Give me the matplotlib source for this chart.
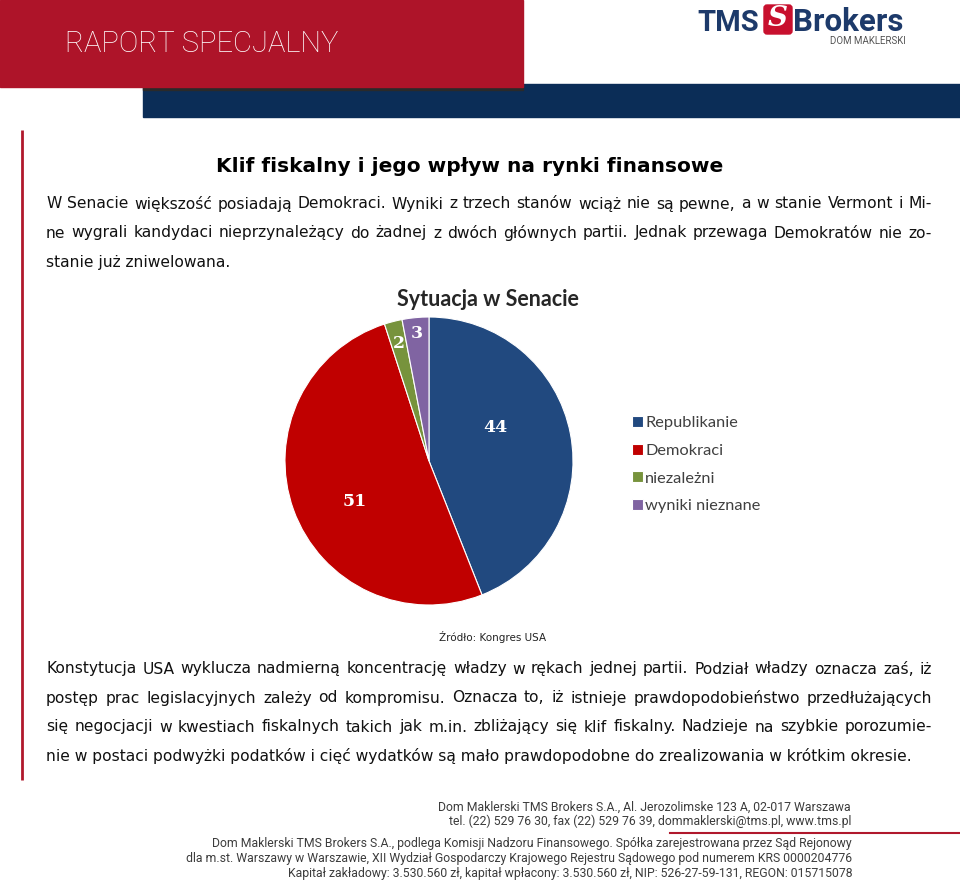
import matplotlib
matplotlib.use('Agg')
import matplotlib.pyplot as plt
from matplotlib.patches import Rectangle, FancyBboxPatch
import numpy as np

# chart data
parties = ['Republikanie', 'Demokraci', 'niezależni', 'wyniki nieznane']
seats = [44, 51, 2, 3]
colors = ['#21497f', '#c00000', '#77933c', '#8064a2']
# label placement inside the wedges (fraction of radius, angle shift in degrees)
label_r = [0.52, 0.59, 0.84, 0.89]
label_shift = [16, 9, 0, 0]

chart_title = 'Sytuacja w Senacie'
source = 'Źródło: Kongres USA'

page_title = 'Klif fiskalny i jego wpływ na rynki finansowe'
para1 = [
    'W Senacie większość posiadają Demokraci. Wyniki z trzech stanów wciąż nie są pewne, a w stanie Vermont i Mi-',
    'ne wygrali kandydaci nieprzynależący do żadnej z dwóch głównych partii. Jednak przewaga Demokratów nie zo-',
    'stanie już zniwelowana.',
]
para2 = [
    'Konstytucja USA wyklucza nadmierną koncentrację władzy w rękach jednej partii. Podział władzy oznacza zaś, iż',
    'postęp prac legislacyjnych zależy od kompromisu. Oznacza to, iż istnieje prawdopodobieństwo przedłużających',
    'się negocjacji w kwestiach fiskalnych takich jak m.in. zbliżający się klif fiskalny. Nadzieje na szybkie porozumie-',
    'nie w postaci podwyżki podatków i cięć wydatków są mało prawdopodobne do zrealizowania w krótkim okresie.',
]
address = [
    'Dom Maklerski TMS Brokers S.A., Al. Jerozolimske 123 A, 02-017 Warszawa',
    'tel. (22) 529 76 30, fax (22) 529 76 39, dommaklerski@tms.pl, www.tms.pl',
]
legal = [
    'Dom Maklerski TMS Brokers S.A., podlega Komisji Nadzoru Finansowego. Spółka zarejestrowana przez Sąd Rejonowy',
    'dla m.st. Warszawy w Warszawie, XII Wydział Gospodarczy Krajowego Rejestru Sądowego pod numerem KRS 0000204776',
    'Kapitał zakładowy: 3.530.560 zł, kapitał wpłacony: 3.530.560 zł, NIP: 526-27-59-131, REGON: 015715078',
]

W, H = 960, 882
fig = plt.figure(figsize=(W / 100, H / 100), dpi=100)
fig.patch.set_facecolor('white')
ax = fig.add_axes([0, 0, 1, 1])
ax.set_xlim(0, W)
ax.set_ylim(H, 0)
ax.axis('off')
renderer = fig.canvas.get_renderer()

# header
ax.add_patch(Rectangle((143, 84), W - 143, 33, color='#0b2d57', zorder=1))
ax.add_patch(Rectangle((143, 84), 380, 6, color='#2a2a2a', zorder=1.5))
ax.add_patch(Rectangle((0, 0), 523, 87, color='#ae1429', zorder=2))
ax.text(65, 44, 'RAPORT SPECJALNY', color='white', fontsize=21, family='Roboto',
        fontweight='light', va='center', ha='left', zorder=3)
ax.text(759, 31, 'TMS', color='#1d3a6a', fontsize=21, family='Roboto',
        fontweight='bold', va='baseline', ha='right')
ax.add_patch(FancyBboxPatch((764, 5), 28, 29, boxstyle='round,pad=0,rounding_size=3',
                            color='#c8102e'))
ax.text(778, 19, 'S', color='white', fontsize=20, family='DejaVu Serif',
        fontstyle='italic', fontweight='bold', va='center', ha='center')
ax.text(793, 31, 'Brokers', color='#1d3a6a', fontsize=22.5, family='Roboto',
        fontweight='bold', va='baseline', ha='left')
ax.text(906, 41, 'DOM MAKLERSKI', color='#555555', fontsize=7, family='Roboto',
        va='center', ha='right')

# left margin rule
ax.plot([22, 22], [130, 780], color='#b0182c', lw=2, solid_capstyle='butt')

ax.text(470, 166, page_title, fontsize=14.5, fontweight='bold', family='DejaVu Sans',
        ha='center', va='center', color='black')

# fit body font size to the unjustified last line
probe = ax.text(0, 0, para2[-1], fontsize=10, family='DejaVu Sans')
body_size = 10 * 871 / probe.get_window_extent(renderer).width
probe.remove()


def justify(lines, y0, dy, x0=46, x1=932):
    for i, line in enumerate(lines):
        y = y0 + i * dy
        if i == len(lines) - 1:
            ax.text(x0, y, line, fontsize=body_size, family='DejaVu Sans',
                    va='center', ha='left', color='#111111')
            continue
        words = line.split()
        texts = [ax.text(0, y, w, fontsize=body_size, family='DejaVu Sans',
                         va='center', ha='left', color='#111111') for w in words]
        widths = [t.get_window_extent(renderer).width for t in texts]
        gap = (x1 - x0 - sum(widths)) / (len(words) - 1)
        x = x0
        for t, w in zip(texts, widths):
            t.set_x(x)
            x += w + gap


justify(para1, 204, 29)
justify(para2, 669, 29)

# pie chart
cx, cy, r = 429, 461, 144
pax = fig.add_axes([(cx - r) / W, 1 - (cy + r) / H, 2 * r / W, 2 * r / H])
wedges, _ = pax.pie(seats, colors=colors, startangle=90, counterclock=False,
                    radius=1, wedgeprops=dict(edgecolor='white', linewidth=0.8))
for wdg, v, rr, sh in zip(wedges, seats, label_r, label_shift):
    ang = np.deg2rad((wdg.theta1 + wdg.theta2) / 2 + sh)
    pax.text(rr * np.cos(ang), rr * np.sin(ang), str(v), color='white',
             fontsize=12.5, fontweight='bold', family='DejaVu Serif',
             ha='center', va='center')
pax.set_xlim(-1, 1)
pax.set_ylim(-1, 1)
pax.set_aspect('equal')
pax.axis('off')

ax.text(488, 300, chart_title, fontsize=15.5, fontweight='bold', family='Lato',
        ha='center', va='center', color='#262626')
fig.legend(wedges, parties, loc='upper left', bbox_to_anchor=(632 / W, 1 - 416 / H),
           frameon=False, prop=dict(family='Lato', size=11.8),
           handlelength=0.65, handleheight=0.65, handletextpad=0.15,
           labelspacing=0.82, borderpad=0, borderaxespad=0, labelcolor='#404040')

ax.text(493, 637, source, fontsize=7.5, family='DejaVu Sans', ha='center',
        va='center', color='#222222')

# footer
for i, line in enumerate(address):
    ax.text(851, 807 + i * 14, line, fontsize=8.8, family='Roboto', ha='right',
            va='center', color='#3c3c3c')
ax.plot([670, W], [833, 833], color='#b0182c', lw=1.5)
for i, line in enumerate(legal):
    ax.text(852, 844 + i * 14.5, line, fontsize=8.8, family='Roboto', ha='right',
            va='center', color='#3c3c3c')

fig.savefig('out.png', dpi=100, facecolor='white')
